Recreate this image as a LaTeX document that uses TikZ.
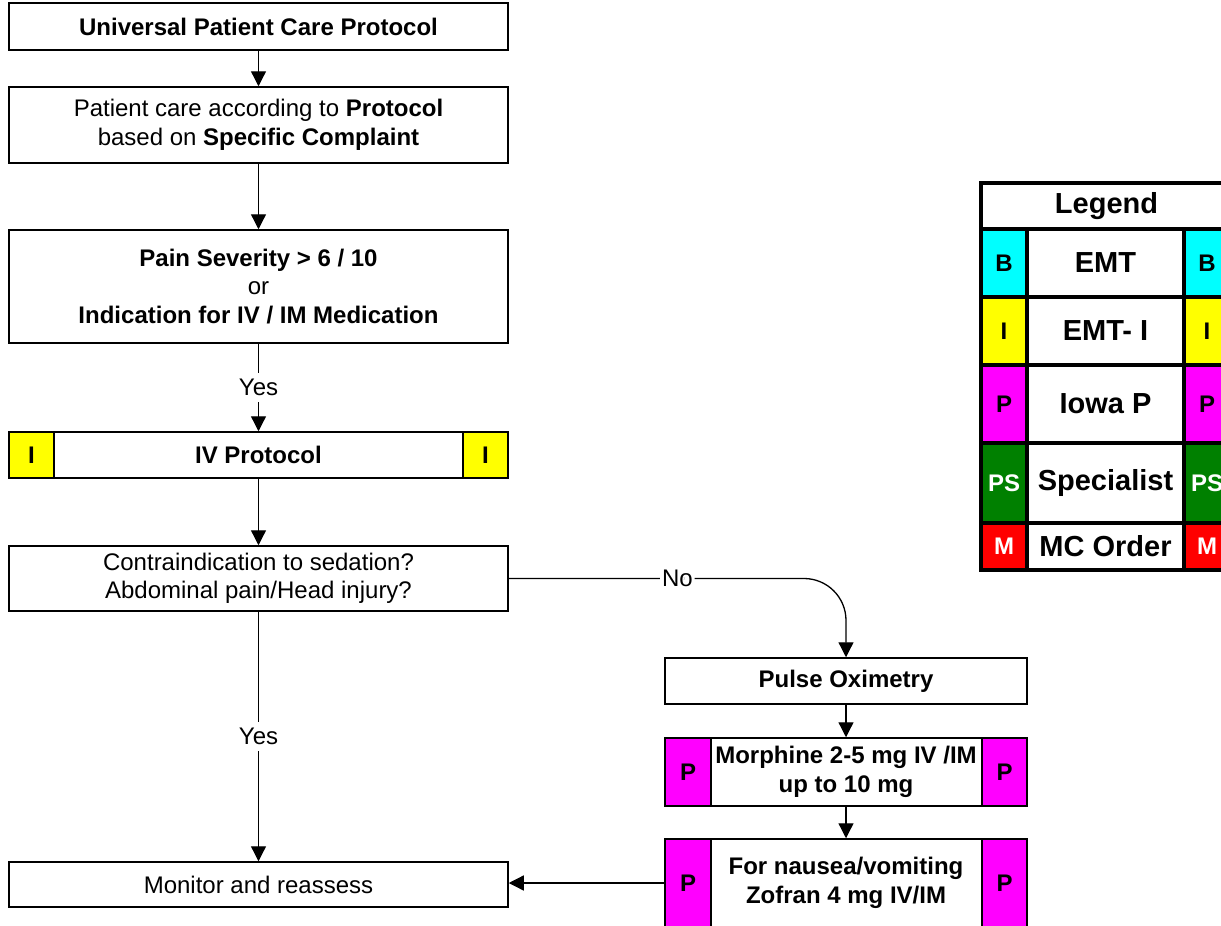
\documentclass[tikz,border=0pt]{standalone}
\usepackage{fontspec}
\setmainfont{Liberation Sans}
\usetikzlibrary{arrows.meta}
\definecolor{lgcyan}{RGB}{0,255,255}
\definecolor{lgyellow}{RGB}{255,255,0}
\definecolor{lgmagenta}{RGB}{255,0,255}
\definecolor{lggreen}{RGB}{0,128,0}
\definecolor{lgred}{RGB}{255,0,0}
\newcommand\fsmain{\fontsize{24}{28.5}\selectfont}
\newcommand\fslg{\fontsize{29}{33}\selectfont}
\begin{document}
\begin{tikzpicture}[x=1pt,y=-1pt,
  box/.style={draw, line width=1.5pt, fill=white, align=center, inner sep=0pt, font=\fsmain},
  sq/.style={draw, line width=1.5pt, inner sep=0pt, font=\fsmain\bfseries},
  conn/.style={line width=1.3pt, -{Triangle[length=15pt,width=15pt]}},
  lbl/.style={fill=white, inner xsep=2pt, inner ysep=6pt, font=\fsmain},
  lgtext/.style={draw, line width=4pt, fill=white, inner sep=0pt, font=\fslg\bfseries},
  lgcol/.style={draw, line width=4pt, inner sep=0pt, font=\fsmain\bfseries, minimum width=46pt}]
\useasboundingbox (0,0) rectangle (1221,926);
\fill[white] (0,0) rectangle (1221,926);

% left column
\node[box, font=\fsmain\bfseries, minimum width=499pt, minimum height=47pt] (uni) at (258.5,26.5) {Universal Patient Care Protocol};
\node[box, minimum width=499pt, minimum height=76pt] (pcare) at (258.5,125) {Patient care according to \textbf{Protocol}\\based on \textbf{Specific Complaint}};
\node[box, minimum width=499pt, minimum height=113pt] (pain) at (258.5,286.5) {\textbf{Pain Severity > 6 / 10}\\or\\\textbf{Indication for IV / IM Medication}};
\node[box, font=\fsmain\bfseries, minimum width=499pt, minimum height=46pt] (iv) at (258.5,455) {IV Protocol};
\node[sq, fill=lgyellow, minimum width=45pt, minimum height=46pt] (ivl) at (31.5,455) {I};
\node[sq, fill=lgyellow, minimum width=45pt, minimum height=46pt] (ivr) at (485.5,455) {I};
\node[box, minimum width=499pt, minimum height=65pt] (contra) at (258.5,578.5) {Contraindication to sedation?\\Abdominal pain/Head injury?};
\node[box, minimum width=499pt, minimum height=45pt] (monitor) at (258.5,884.5) {Monitor and reassess};

% right column
\node[box, font=\fsmain\bfseries, minimum width=362pt, minimum height=46pt] (pulse) at (846,681) {Pulse Oximetry};
\node[box, font=\fsmain\bfseries, minimum width=362pt, minimum height=68pt] (morph) at (846,772) {Morphine 2-5 mg IV /IM\\up to 10 mg};
\node[sq, fill=lgmagenta, minimum width=46pt, minimum height=68pt] (morphl) at (688,772) {P};
\node[sq, fill=lgmagenta, minimum width=45pt, minimum height=68pt] (morphr) at (1004.5,772) {P};
\node[box, font=\fsmain\bfseries, minimum width=362pt, minimum height=88pt] (zof) at (846,883) {For nausea/vomiting\\Zofran 4 mg IV/IM};
\node[sq, fill=lgmagenta, minimum width=46pt, minimum height=88pt] (zofl) at (688,883) {P};
\node[sq, fill=lgmagenta, minimum width=45pt, minimum height=88pt] (zofr) at (1004.5,883) {P};

% connectors
\draw[conn] (uni.south) -- (pcare.north);
\draw[conn] (pcare.south) -- (pain.north);
\draw[conn] (pain.south) -- node[lbl]{Yes} (iv.north);
\draw[conn] (iv.south) -- (contra.north);
\draw[conn] (contra.south) -- node[lbl]{Yes} (monitor.north);
\coordinate (bend) at (846,578.5);
\draw[conn, rounded corners=42pt] (contra.east) -- node[lbl]{No} (bend) -- (pulse.north);
\draw[conn] (pulse.south) -- (morph.north);
\draw[conn] (morph.south) -- (zof.north);
\draw[conn] (zofl.west) -- (zofl.west -| monitor.east);

% legend
\node[lgtext, minimum width=251pt, minimum height=46pt] (lgh) at (1106.5,206) {Legend};
\node[lgcol, fill=lgcyan, minimum height=68pt] (lbl1) at (1004,263) {B};
\node[lgtext, minimum width=157pt, minimum height=68pt] (lbm1) at (1105.5,263) {EMT};
\node[lgcol, fill=lgcyan, minimum height=68pt] (lbr1) at (1207,263) {B};
\node[lgcol, fill=lgyellow, minimum height=68pt] (lbl2) at (1004,331) {I};
\node[lgtext, minimum width=157pt, minimum height=68pt] (lbm2) at (1105.5,331) {EMT- I};
\node[lgcol, fill=lgyellow, minimum height=68pt] (lbr2) at (1207,331) {I};
\node[lgcol, fill=lgmagenta, minimum height=78pt] (lbl3) at (1004,404) {P};
\node[lgtext, minimum width=157pt, minimum height=78pt] (lbm3) at (1105.5,404) {Iowa P};
\node[lgcol, fill=lgmagenta, minimum height=78pt] (lbr3) at (1207,404) {P};
\node[lgcol, fill=lggreen, text=white, minimum height=80pt] (lbl4) at (1004,483) {PS};
\node[lgtext, minimum width=157pt, minimum height=80pt] (lbm4) at (1105.5,483) {Specialist};
\node[lgcol, fill=lggreen, text=white, minimum height=80pt] (lbr4) at (1207,483) {PS};
\node[lgcol, fill=lgred, text=white, minimum height=47pt] (lbl5) at (1004,546.5) {M};
\node[lgtext, minimum width=157pt, minimum height=47pt] (lbm5) at (1105.5,546.5) {MC Order};
\node[lgcol, fill=lgred, text=white, minimum height=47pt] (lbr5) at (1207,546.5) {M};
\end{tikzpicture}
\end{document}
